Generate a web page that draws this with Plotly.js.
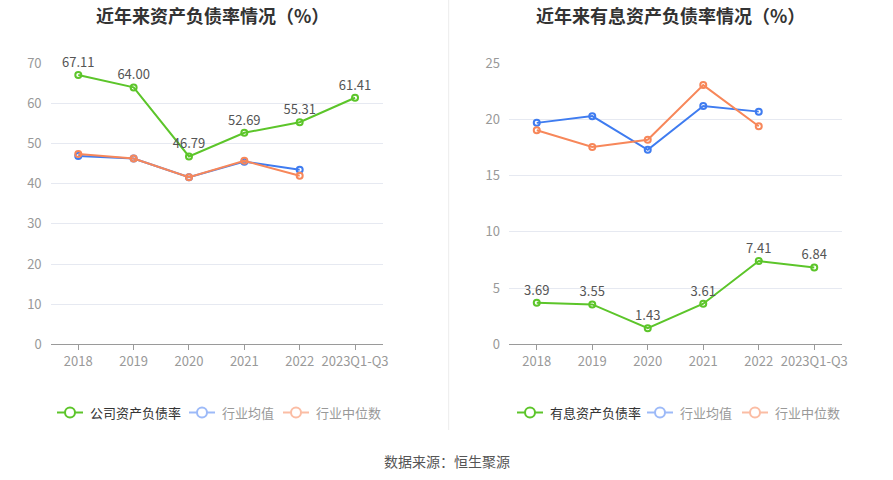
<!DOCTYPE html>
<html><head><meta charset="utf-8">
<script src="https://cdn.plot.ly/plotly-3.0.1.min.js"></script>
<style>html,body{margin:0;padding:0;background:#fff}#c{width:893px;height:480px}</style>
</head><body><div id="c"></div>
<script>
const categories = ['2018','2019','2020','2021','2022','2023Q1-Q3'];
const companyDebt = [67.11, 64.00, 46.79, 52.69, 55.31, 61.41];
const industryAvgDebt = [46.9, 46.3, 41.6, 45.5, 43.5, null];
const industryMedDebt = [47.4, 46.3, 41.6, 45.7, 42.0, null];
const interestDebt = [3.69, 3.55, 1.43, 3.61, 7.41, 6.84];
const industryAvgInterest = [19.7, 20.3, 17.3, 21.2, 20.7, null];
const industryMedInterest = [19.05, 17.55, 18.2, 23.06, 19.4, null];
const leftTitle = '近年来资产负债率情况（%）';
const rightTitle = '近年来有息资产负债率情况（%）';
const leftLegend = ['公司资产负债率','行业均值','行业中位数'];
const rightLegend = ['有息资产负债率','行业均值','行业中位数'];
const source = '数据来源：恒生聚源';

const GREEN='#5cc52a', BLUE='#3f7cf0', ORANGE='#f7875a';
const GREEN_L='#5cc52a', BLUE_L='#9dbaf8', ORANGE_L='#fbbda4';
const FONT='"Noto Sans CJK SC", "Noto Sans", sans-serif';

function line(y, color, xa, ya, labels){
  return {x: categories, y: y, type:'scatter', mode: labels?'lines+markers+text':'lines+markers',
    xaxis: xa, yaxis: ya, showlegend:false, hoverinfo:'skip',
    line:{color:color, width:2}, marker:{symbol:'circle-open', size:6, color:color, line:{width:2,color:color}},
    text: labels? y.map(v=>v.toFixed(2)):undefined, textposition:'top center',
    textfont:{family:FONT, size:13, color:'#555'}, cliponaxis:false};
}
const traces = [
  line(industryAvgDebt, BLUE, 'x','y'),
  line(industryMedDebt, ORANGE, 'x','y'),
  line(companyDebt, GREEN, 'x','y', true),
  line(industryAvgInterest, BLUE, 'x2','y2'),
  line(industryMedInterest, ORANGE, 'x2','y2'),
  line(interestDebt, GREEN, 'x2','y2', true)
];

function xax(domain){
  return {domain:domain, type:'category', range:[-0.5,5.5], showgrid:false, zeroline:false,
    showline:true, linecolor:'#9a9a9a', linewidth:1, ticks:'outside', ticklen:5, tickcolor:'#9a9a9a',
    tickfont:{family:FONT,size:13,color:'#999'}, fixedrange:true};
}
function yax(range, dtick, anchor){
  return {domain:[1-344.3/480, 1-63.3/480], range:range, dtick:dtick, anchor:anchor, showline:false,
    zeroline:false, gridcolor:'#e6e9f1', gridwidth:1, ticks:'', tickfont:{family:FONT,size:13,color:'#999'},
    ticklabelstandoff:8, fixedrange:true};
}

const shapes = [{type:'line', xref:'paper', yref:'paper', x0:448.7/893, x1:448.7/893, y0:1, y1:1-430/480,
  line:{color:'#ececec', width:1}}];
const annotations = [
  {text:'<b>'+leftTitle+'</b>', xref:'paper', yref:'paper', x:212/893, y:1-15/480, showarrow:false,
   xanchor:'center', yanchor:'middle', font:{family:FONT,size:18,color:'#333'}},
  {text:'<b>'+rightTitle+'</b>', xref:'paper', yref:'paper', x:670/893, y:1-15/480, showarrow:false,
   xanchor:'center', yanchor:'middle', font:{family:FONT,size:18,color:'#333'}},
  {text:source, xref:'paper', yref:'paper', x:446.7/893, y:1-461/480, showarrow:false,
   xanchor:'center', yanchor:'middle', font:{family:FONT,size:14,color:'#555'}}
];
function legendItem(x0, label, color, textColor){
  const yc = 1-412.5/480;
  shapes.push({type:'line', xref:'paper', yref:'paper', x0:x0/893, x1:(x0+26)/893, y0:yc, y1:yc,
    line:{color:color, width:2}});
  shapes.push({type:'circle', xref:'paper', yref:'paper', xsizemode:'pixel', ysizemode:'pixel',
    xanchor:(x0+13)/893, yanchor:yc, x0:-5, x1:5, y0:-5, y1:5, fillcolor:'#fff', line:{color:color,width:2}});
  annotations.push({text:label, xref:'paper', yref:'paper', x:(x0+31)/893, y:yc, showarrow:false,
    xanchor:'left', yanchor:'middle', font:{family:FONT,size:13,color:textColor}});
}
legendItem(57, leftLegend[0], GREEN_L, '#333');
legendItem(189, leftLegend[1], BLUE_L, '#999');
legendItem(283, leftLegend[2], ORANGE_L, '#999');
legendItem(517, rightLegend[0], GREEN_L, '#333');
legendItem(647, rightLegend[1], BLUE_L, '#999');
legendItem(742, rightLegend[2], ORANGE_L, '#999');

const layout = {
  width:893, height:480, margin:{l:0,r:0,t:0,b:0}, paper_bgcolor:'#fff', plot_bgcolor:'#fff',
  showlegend:false, font:{family:FONT},
  xaxis: Object.assign(xax([50.6/893, 382.7/893]), {anchor:'y'}), yaxis: yax([0,70],10,'x'),
  xaxis2: Object.assign(xax([509/893, 842/893]), {anchor:'y2'}), yaxis2: yax([0,25],5,'x2'),
  shapes: shapes, annotations: annotations
};
Plotly.newPlot('c', traces, layout, {staticPlot:true, displayModeBar:false});
</script></body></html>
